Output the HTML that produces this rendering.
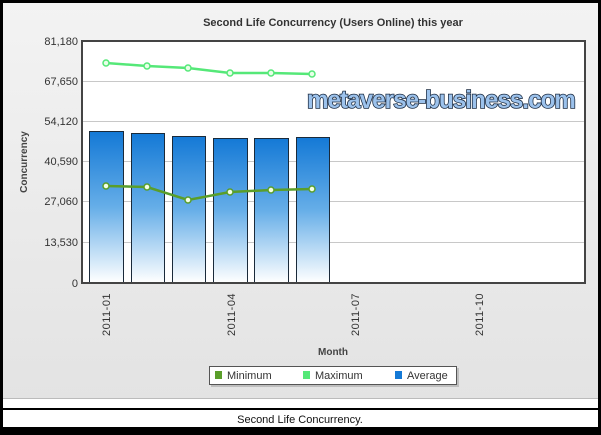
<!DOCTYPE html>
<html><head><style>
body{margin:0;width:601px;height:430px;overflow:hidden;background:#000}
</style></head><body>
<svg width="601" height="430" xmlns="http://www.w3.org/2000/svg" font-family="Liberation Sans, DejaVu Sans, sans-serif">
<defs>
<linearGradient id="bg" x1="0" y1="0" x2="0" y2="1"><stop offset="0" stop-color="#f3f3f3"/><stop offset="1" stop-color="#e3e3e3"/></linearGradient>
<linearGradient id="bar" x1="0" y1="0" x2="0" y2="1"><stop offset="0" stop-color="#1479d6"/><stop offset="0.5" stop-color="#66aee8"/><stop offset="1" stop-color="#ffffff"/></linearGradient>
</defs>
<rect x="3" y="3" width="595" height="396" fill="url(#bg)"/>
<rect x="3" y="399" width="595" height="9" fill="#fff"/>
<line x1="3" y1="398.5" x2="598" y2="398.5" stroke="#bbb"/>
<rect x="3" y="408" width="595" height="2" fill="#000"/>
<rect x="3" y="410" width="595" height="17" fill="#fff"/>
<text x="300" y="423" font-size="11" text-anchor="middle" fill="#111">Second Life Concurrency.</text>
<text x="333" y="26" font-size="11" font-weight="bold" text-anchor="middle" fill="#333">Second Life Concurrency (Users Online) this year</text>
<rect x="82" y="41" width="503" height="242" fill="#fff"/>
<g stroke="#c8c8c8" stroke-width="1">
<line x1="82" y1="81.5" x2="585" y2="81.5"/><line x1="82" y1="121.5" x2="585" y2="121.5"/><line x1="82" y1="161.5" x2="585" y2="161.5"/><line x1="82" y1="201.5" x2="585" y2="201.5"/><line x1="82" y1="242.5" x2="585" y2="242.5"/>
</g>
<g font-size="11" fill="#333" text-anchor="end">
<text x="78" y="45">81,180</text><text x="78" y="85">67,650</text><text x="78" y="125">54,120</text><text x="78" y="165">40,590</text><text x="78" y="205">27,060</text><text x="78" y="246">13,530</text><text x="78" y="287">0</text>
</g>
<text transform="translate(27,162) rotate(-90)" font-size="10" font-weight="bold" fill="#444" text-anchor="middle">Concurrency</text>
<g fill="url(#bar)" stroke="#1a2a3a" stroke-width="1">
<rect x="89.5" y="131.5" width="34" height="151"/><rect x="131.5" y="133.5" width="33" height="149"/><rect x="172.5" y="136.5" width="33" height="146"/><rect x="213.5" y="138.5" width="34" height="144"/><rect x="254.5" y="138.5" width="34" height="144"/><rect x="296.5" y="137.5" width="33" height="145"/>
</g>
<polyline points="106,63 147,66 188,68 230,73 271,73 312,74" fill="none" stroke="#55e878" stroke-width="2.5"/>
<g fill="#e8ffe8" stroke="#55e878" stroke-width="1.5">
<circle cx="106" cy="63" r="3"/><circle cx="147" cy="66" r="3"/><circle cx="188" cy="68" r="3"/><circle cx="230" cy="73" r="3"/><circle cx="271" cy="73" r="3"/><circle cx="312" cy="74" r="3"/>
</g>
<polyline points="106,186 147,187 188,200 230,192 271,190 312,189" fill="none" stroke="#5a9e2a" stroke-width="2.5"/>
<g fill="#f4ffe8" stroke="#5a9e2a" stroke-width="1.5">
<circle cx="106" cy="186" r="3"/><circle cx="147" cy="187" r="3"/><circle cx="188" cy="200" r="3"/><circle cx="230" cy="192" r="3"/><circle cx="271" cy="190" r="3"/><circle cx="312" cy="189" r="3"/>
</g>
<rect x="82" y="41" width="503" height="242" fill="none" stroke="#444" stroke-width="2"/>
<text x="441" y="108" font-size="25" font-weight="bold" text-anchor="middle" fill="#9cc2ec" stroke="#1a2a40" stroke-width="1.6" letter-spacing="-1" style="paint-order:stroke" textLength="268" lengthAdjust="spacingAndGlyphs">metaverse-business.com</text>
<g font-size="11" fill="#333" letter-spacing="0.5">
<text transform="translate(110,336) rotate(-90)">2011-01</text>
<text transform="translate(235,336) rotate(-90)">2011-04</text>
<text transform="translate(359,336) rotate(-90)">2011-07</text>
<text transform="translate(483,336) rotate(-90)">2011-10</text>
</g>
<text x="333" y="355" font-size="10" font-weight="bold" fill="#444" text-anchor="middle">Month</text>
<rect x="211" y="368" width="248" height="19" fill="#999" opacity="0.5"/>
<rect x="209.5" y="366.5" width="247" height="18" fill="#fff" stroke="#555"/>
<rect x="215" y="371" width="7" height="8" fill="#5a9e2a"/>
<text x="227" y="379" font-size="11" fill="#333">Minimum</text>
<rect x="303" y="371" width="7" height="8" fill="#55e878"/>
<text x="315" y="379" font-size="11" fill="#333">Maximum</text>
<rect x="395" y="371" width="7" height="8" fill="#1479d6"/>
<text x="407" y="379" font-size="11" fill="#333">Average</text>
</svg>
</body></html>
